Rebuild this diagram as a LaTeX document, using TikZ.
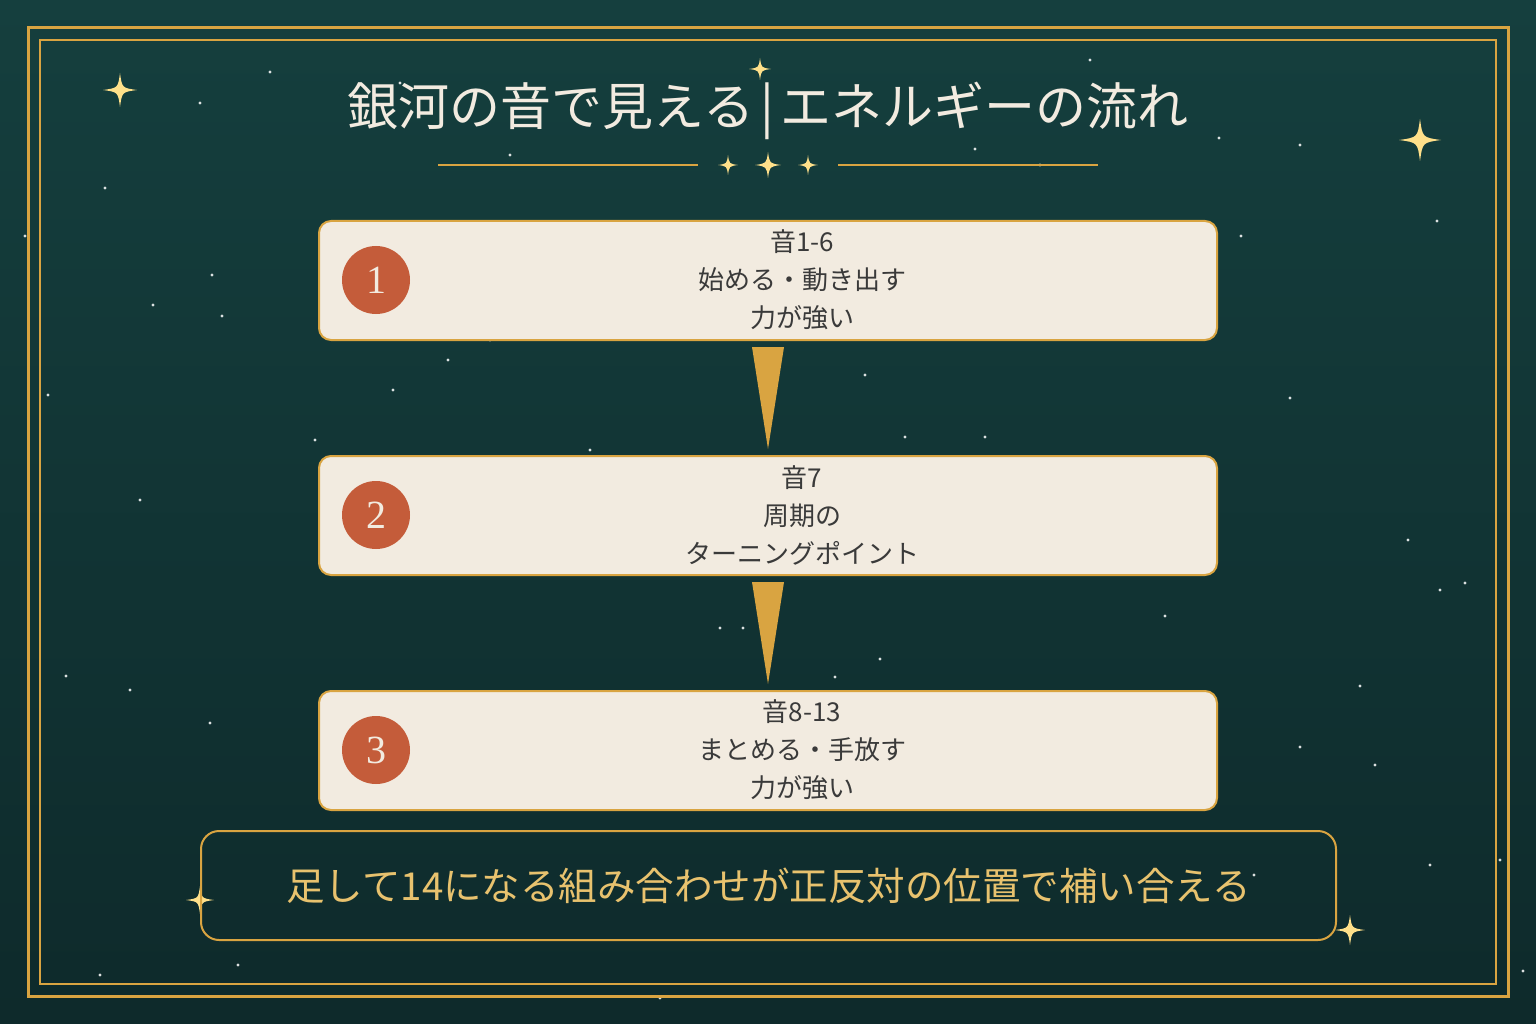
\documentclass[tikz,border=0pt]{standalone}
\usepackage{fontspec}
\setmainfont{Noto Sans CJK JP}
\newfontfamily\numfont{Liberation Serif}
\usetikzlibrary{calc}
\definecolor{nightTop}{HTML}{153F3E}
\definecolor{nightBottom}{HTML}{0E2A2B}
\definecolor{gold}{HTML}{D9A441}
\definecolor{cream}{HTML}{F2EBE0}
\definecolor{rust}{HTML}{C45C3A}
\definecolor{starlight}{HTML}{FFE08A}
\definecolor{goldtext}{HTML}{E8C26E}
\definecolor{ink}{HTML}{3A3A3A}

\begin{document}
\begin{tikzpicture}[x=1pt, y=-1pt,
	stepbox/.style={draw=gold, line width=2pt, fill=cream, rounded corners=12pt, minimum width=898pt, minimum height=119pt},
	badge/.style={circle, fill=rust, minimum size=68pt, inner sep=0pt, text=cream, font=\numfont\fontsize{40}{40}\selectfont},
	steptext/.style={align=center, text=ink, font=\fontsize{26}{38}\selectfont},
	sparkle/.pic={\fill[starlight] (0,-1) .. controls (0.12,-0.12) .. (1,0) .. controls (0.12,0.12) .. (0,1) .. controls (-0.12,0.12) .. (-1,0) .. controls (-0.12,-0.12) .. (0,-1) -- cycle;}]
	\shade[top color=nightTop, bottom color=nightBottom] (0,0) rectangle (1536,1024);
	\foreach \px/\py in {200/103,105/188,212/275,153/305,222/316,448/360,393/390,48/395,905/437,985/437,315/440,1290/398,1241/236,1437/221,1408/540,1165/616,880/659,835/677,130/690,210/723,1375/765,1300/747,1440/590,66/676,1500/860,1523/971,100/975,660/998,1040/165,975/149,510/155,490/340,720/628,743/628,1360/686,1430/865,238/965,1465/583,25/236,1219/138,140/500,590/450,1254/875,1300/145,865/375,1090/60,270/72,400/83}
	  \fill[white, opacity=0.85] (\px,\py) circle (1.6);
	\draw[gold, line width=3pt] (28,28) rectangle (1508,996);
	\draw[gold, line width=1.5pt] (40,40) rectangle (1496,984);
	\pic[scale=17] at (120,90) {sparkle};
	\pic[scale=11] at (760,69) {sparkle};
	\pic[scale=21] at (1420,140) {sparkle};
	\pic[scale=14] at (200,900) {sparkle};
	\pic[scale=15] at (1350,930) {sparkle};
	\node[text=cream, font=\fontsize{51}{51}\selectfont] (title) at (768,111) {銀河の音で見える\hspace{6pt}|\hspace{6pt}エネルギーの流れ};
	\draw[gold, line width=2pt] (438,165) -- (698,165);
	\draw[gold, line width=2pt] (838,165) -- (1098,165);
	\pic[scale=10] at (728,165) {sparkle};
	\pic[scale=13] at (768,165) {sparkle};
	\pic[scale=10] at (808,165) {sparkle};
	% steps
	\node[stepbox] (b1) at (768,280.5) {};
	\node[badge] (n1) at (376,280) {1};
	\node[steptext] (t1) at (802,280) {音1-6\\始める・動き出す\\力が強い};
	\node[stepbox] (b2) at (768,515.5) {};
	\node[badge] (n2) at (376,515) {2};
	\node[steptext] (t2) at (802,515) {音7\\周期の\\ターニングポイント};
	\node[stepbox] (b3) at (768,750.5) {};
	\node[badge] (n3) at (376,750) {3};
	\node[steptext] (t3) at (802,750) {音8-13\\まとめる・手放す\\力が強い};
	\fill[gold] ($(b1.south)+(-16,6)$) -- ($(b1.south)+(16,6)$) -- ($(b2.north)+(0,-6)$) -- cycle;
	\fill[gold] ($(b2.south)+(-16,6)$) -- ($(b2.south)+(16,6)$) -- ($(b3.north)+(0,-6)$) -- cycle;
	\node[draw=gold, line width=2pt, rounded corners=18pt, minimum width=1135pt, minimum height=109pt, text=goldtext, font=\fontsize{38.5}{38.5}\selectfont] (note) at (768.5,885.5) {足して14になる組み合わせが正反対の位置で補い合える};
\end{tikzpicture}
\end{document}
